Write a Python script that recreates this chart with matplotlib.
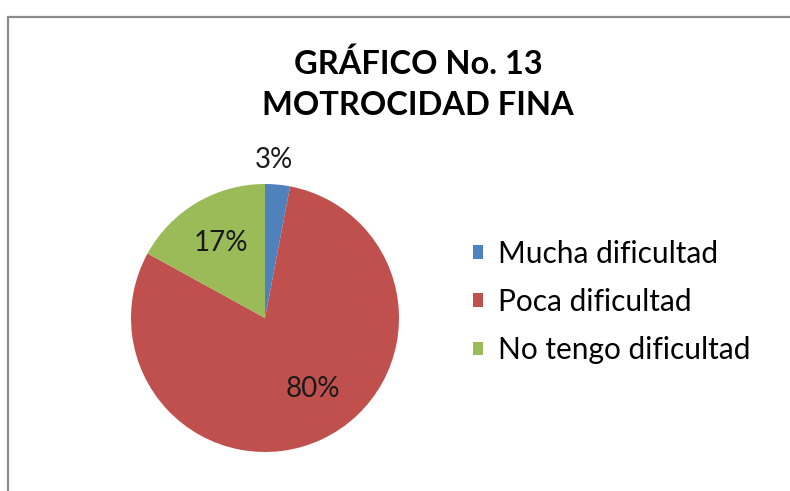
import matplotlib
matplotlib.use("Agg")
import matplotlib.pyplot as plt
from matplotlib.patches import Rectangle, Patch
import numpy as np

categories = ["Mucha dificultad", "Poca dificultad", "No tengo dificultad"]
values = [3, 80, 17]
labels = ["3%", "80%", "17%"]
colors = ["#4F81BD", "#C0504D", "#9BBB59"]
title = "GRÁFICO No. 13\nMOTROCIDAD FINA"

plt.rcParams['font.family'] = ['Lato', 'DejaVu Sans']

W, H = 790, 491
fig = plt.figure(figsize=(W / 100, H / 100), dpi=100)

# chart border (right and bottom edges lie outside the image)
fig.patches.append(Rectangle((7.5 / W, -0.5), 1.5, 1.5 - 16.5 / H, transform=fig.transFigure,
                             fill=False, edgecolor="#8c8c8c", linewidth=1.6))

cx, cy, r = 265, 318, 134
ax = fig.add_axes([(cx - r) / W, (H - cy - r) / H, 2 * r / W, 2 * r / H])
wedges, _ = ax.pie(values, colors=colors, startangle=90, counterclock=False,
                   radius=1, wedgeprops=dict(linewidth=0))
ax.set_xlim(-1, 1)
ax.set_ylim(-1, 1)
ax.set_aspect('equal')
ax.axis('off')

dists = [1.18, 0.64, 0.65]
angle_adj = [2, 9, 0]
for w, lab, d, adj in zip(wedges, labels, dists, angle_adj):
    ang = np.deg2rad((w.theta1 + w.theta2) / 2 + adj)
    ax.text(d * np.cos(ang), d * np.sin(ang), lab, ha='center', va='center',
            fontsize=20, color='#1a1a1a', clip_on=False)

fig.text(418 / W, 1 - 84 / H, title, ha='center', va='center', fontsize=23.5,
         fontweight='bold', linespacing=1.5, color='black')

handles = [Patch(facecolor=c, edgecolor='none') for c in colors]
fig.legend(handles, categories, loc='center left', bbox_to_anchor=(473 / W, 1 - 302 / H),
           frameon=False, fontsize=21.5, handlelength=0.33, handleheight=0.33,
           handletextpad=0.5, labelspacing=0.68, borderpad=0, borderaxespad=0)

fig.savefig("out.png", dpi=100)
